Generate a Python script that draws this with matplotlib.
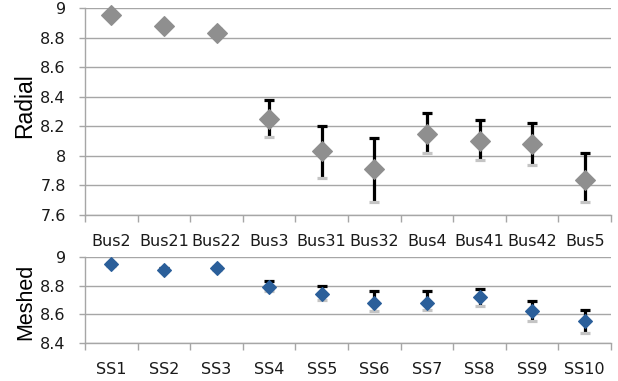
import matplotlib
matplotlib.use("Agg")
import matplotlib.pyplot as plt
import numpy as np

# Data
radial_labels = ["Bus2", "Bus21", "Bus22", "Bus3", "Bus31", "Bus32", "Bus4", "Bus41", "Bus42", "Bus5"]
radial_mean = [8.95, 8.88, 8.83, 8.25, 8.03, 7.91, 8.15, 8.10, 8.08, 7.84]
radial_high = [8.96, 8.89, 8.86, 8.38, 8.20, 8.12, 8.29, 8.24, 8.22, 8.02]
radial_low = [8.94, 8.87, 8.81, 8.13, 7.85, 7.69, 8.02, 7.97, 7.94, 7.69]

meshed_labels = ["SS1", "SS2", "SS3", "SS4", "SS5", "SS6", "SS7", "SS8", "SS9", "SS10"]
meshed_mean = [8.95, 8.91, 8.92, 8.79, 8.74, 8.68, 8.68, 8.72, 8.62, 8.55]
meshed_high = [8.96, 8.92, 8.93, 8.83, 8.80, 8.76, 8.76, 8.78, 8.69, 8.63]
meshed_low = [8.94, 8.90, 8.91, 8.76, 8.70, 8.62, 8.63, 8.66, 8.55, 8.47]

radial_yticks = [7.6, 7.8, 8.0, 8.2, 8.4, 8.6, 8.8, 9.0]
radial_yticklabels = ["7.6", "7.8", "8", "8.2", "8.4", "8.6", "8.8", "9"]
meshed_yticks = [8.4, 8.6, 8.8, 9.0]
meshed_yticklabels = ["8.4", "8.6", "8.8", "9"]

GRID = "#a6a6a6"
TXT = "#1a1a1a"

fig = plt.figure(figsize=(6.18, 3.81), dpi=100)
ax1 = fig.add_axes([85 / 618, 1 - 215 / 381, (611 - 85) / 618, (215 - 8) / 381])
ax2 = fig.add_axes([85 / 618, 1 - 343 / 381, (611 - 85) / 618, (343 - 257) / 381])


def draw(ax, labels, mean, high, low, yticks, yticklabels, ylim, color, ms, ylabel, ylabel_size):
    x = np.arange(1, len(labels) + 1)
    mean = np.array(mean)
    up = np.array(high) - mean
    dn = mean - np.array(low)
    ax.set_xlim(0.5, len(labels) + 0.5)
    ax.set_ylim(*ylim)
    for yt in yticks:
        ax.axhline(yt, color=GRID, lw=1.0, zorder=0)
    # black error bar (full span, black top cap)
    ax.errorbar(x, mean, yerr=[dn, up], fmt="none", ecolor="black", elinewidth=2.3,
                capsize=0, zorder=2)
    ax.errorbar(x, mean, yerr=[np.zeros_like(up), up], fmt="none", ecolor="black",
                elinewidth=0, capsize=3.3, capthick=2.3, zorder=2)
    # light grey lower cap
    ax.errorbar(x, mean, yerr=[dn, np.zeros_like(up)], fmt="none", ecolor="#c4c4c4",
                elinewidth=0, capsize=3.3, capthick=2.3, zorder=2)
    ax.plot(x, mean, linestyle="none", marker="D", ms=ms, mfc=color, mec=color,
            mew=0.8, zorder=3, clip_on=False)
    for s in ["top", "right"]:
        ax.spines[s].set_visible(False)
    for s in ["left", "bottom"]:
        ax.spines[s].set_color(GRID)
        ax.spines[s].set_linewidth(1.0)
    ax.set_yticks(yticks)
    ax.set_yticklabels(yticklabels)
    ax.tick_params(axis="y", direction="out", length=4.3, color=GRID, width=1.0,
                   labelsize=11.5, labelcolor=TXT, pad=9.5)
    ax.set_xticks(np.arange(0.5, len(labels) + 1, 1.0))
    ax.set_xticklabels([])
    ax.set_xticks(x, minor=True)
    ax.set_xticklabels(labels, minor=True)
    ax.tick_params(axis="x", which="major", direction="out", length=5, color=GRID, width=1.0)
    ax.tick_params(axis="x", which="minor", length=0, labelsize=11.5, labelcolor=TXT, pad=14)
    ax.set_ylabel(ylabel, fontsize=ylabel_size, family="Liberation Sans", color="black")


draw(ax1, radial_labels, radial_mean, radial_high, radial_low, radial_yticks,
     radial_yticklabels, (7.6, 9.0), "#8f8f8f", 9.7, "Radial", 16.5)
draw(ax2, meshed_labels, meshed_mean, meshed_high, meshed_low, meshed_yticks,
     meshed_yticklabels, (8.4, 9.0), "#2b5f9a", 7.6, "Meshed", 15.5)
ax1.yaxis.set_label_coords(-0.093, 0.53)
ax2.yaxis.set_label_coords(-0.093, 0.48)

fig.savefig("out.png", dpi=100)
